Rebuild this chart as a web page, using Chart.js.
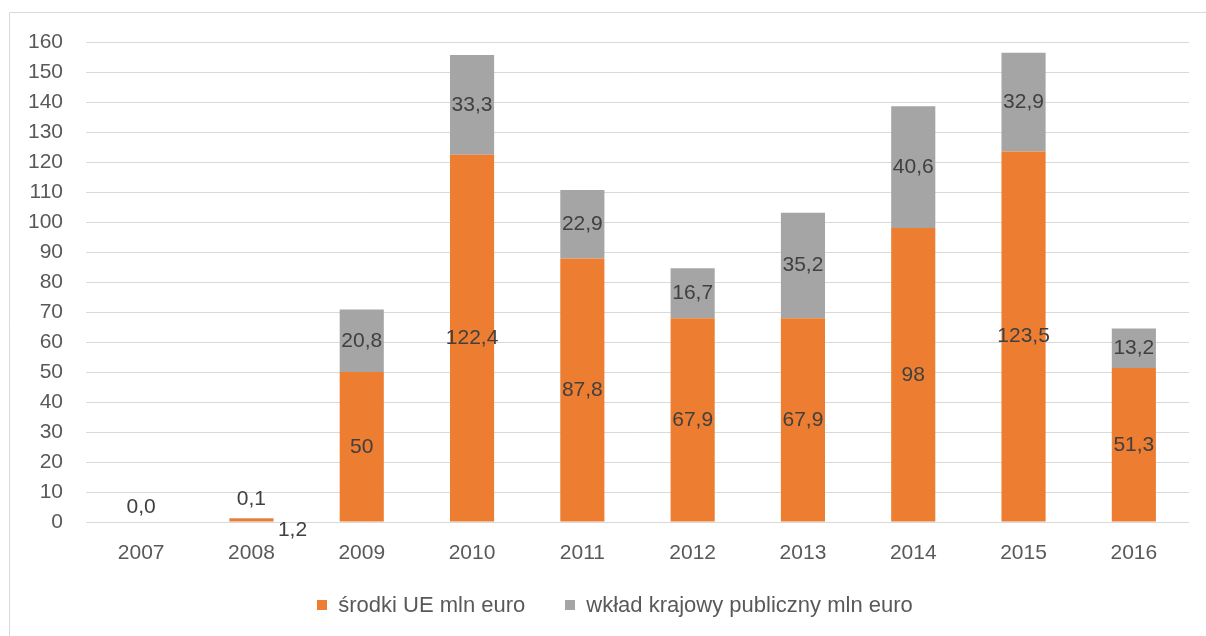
<!DOCTYPE html>
<html>
<head>
<meta charset="utf-8">
<script src="https://cdn.jsdelivr.net/npm/chart.js@4.4.0/dist/chart.umd.min.js"></script>
<style>
  html, body { margin: 0; padding: 0; background: #fff; }
  #wrap { position: relative; width: 1206px; height: 636px; }
  #legend {
    position: absolute; left: 24px; top: 592px; width: 1182px;
    display: flex; justify-content: center; align-items: center;
    font-family: 'Liberation Sans', Arial, sans-serif; font-size: 22px;
    line-height: 26px; color: #595959;
  }
  #legend .item { display: flex; align-items: center; margin: 0 20px; }
  #legend .box { width: 10px; height: 10px; margin-right: 11px; }
</style>
</head>
<body>
<div id="wrap">
  <canvas id="chart" width="1206" height="636"></canvas>
  <div id="legend"></div>
</div>
<script>
// years on the x axis
var years = ['2007', '2008', '2009', '2010', '2011', '2012', '2013', '2014', '2015', '2016']

// środki UE (orange) and wkład krajowy (grey), mln euro
var euFunds = [0, 1.2, 50, 122.4, 87.8, 67.9, 67.9, 98, 123.5, 51.3]
var nationalFunds = [0, 0.1, 20.8, 33.3, 22.9, 16.7, 35.2, 40.6, 32.9, 13.2]

// labels as printed in the chart (formatting is not consistent in the original)
var euLabels = ['', '1,2', '50', '122,4', '87,8', '67,9', '67,9', '98', '123,5', '51,3']
var nationalLabels = ['0,0', '0,1', '20,8', '33,3', '22,9', '16,7', '35,2', '40,6', '32,9', '13,2']

var yTicks = [0, 10, 20, 30, 40, 50, 60, 70, 80, 90, 100, 110, 120, 130, 140, 150, 160]

var FONT = "'Liberation Sans', Arial, sans-serif"
var TEXT = '#595959'

// outer frame: only top and left edges are visible in the original crop
var framePlugin = {
  id: 'frame',
  beforeDraw: function(chart) {
    var ctx = chart.ctx
    ctx.save()
    ctx.fillStyle = '#fff'
    ctx.fillRect(0, 0, chart.width, chart.height)
    ctx.strokeStyle = '#d9d9d9'
    ctx.lineWidth = 1
    ctx.beginPath()
    ctx.moveTo(9.5, chart.height)
    ctx.lineTo(9.5, 12.5)
    ctx.lineTo(chart.width, 12.5)
    ctx.stroke()
    ctx.restore()
  }
}

// value labels in the middle of each segment
var labelPlugin = {
  id: 'segLabels',
  afterDatasetsDraw: function(chart) {
    var ctx = chart.ctx
    var allLabels = [euLabels, nationalLabels]
    ctx.save()
    ctx.font = '21px ' + FONT
    ctx.fillStyle = '#404040'
    ctx.textAlign = 'center'
    ctx.textBaseline = 'middle'
    chart.data.datasets.forEach(function(ds, di) {
      var meta = chart.getDatasetMeta(di)
      meta.data.forEach(function(el, i) {
        var txt = allLabels[di][i]
        if (!txt) return
        var h = Math.abs(el.base - el.y)
        var x = el.x
        var y = (el.y + el.base) / 2
        if (h < 20) {
          // too thin to hold text: grey above, orange off to the lower right
          if (di === 1) {
            y = el.y - 15 - (i === 1 ? 4 : 0)
          } else {
            x = el.x + el.width / 2 + 19
            y = el.base + 9
          }
        }
        ctx.fillText(txt, x, y)
      })
    })
    ctx.restore()
  }
}

// legend built from the datasets, as html so the spacing can match
var htmlLegend = {
  id: 'htmlLegend',
  afterUpdate: function(chart) {
    var box = document.getElementById('legend')
    box.innerHTML = ''
    chart.data.datasets.forEach(function(ds) {
      var item = document.createElement('span')
      item.className = 'item'
      var sw = document.createElement('span')
      sw.className = 'box'
      sw.style.background = ds.backgroundColor
      item.appendChild(sw)
      item.appendChild(document.createTextNode(ds.label))
      box.appendChild(item)
    })
  }
}

var chart = new Chart(document.getElementById('chart'), {
  type: 'bar',
  data: {
    labels: years,
    datasets: [{
      label: 'środki UE mln euro',
      data: euFunds,
      backgroundColor: '#ED7D31',
      barPercentage: 0.4,
      categoryPercentage: 1
    }, {
      label: 'wkład krajowy publiczny mln euro',
      data: nationalFunds,
      backgroundColor: '#A5A5A5',
      barPercentage: 0.4,
      categoryPercentage: 1
    }]
  },
  options: {
    responsive: false,
    animation: false,
    layout: { padding: { top: 42, right: 17, bottom: 54, left: 0 } },
    plugins: {
      tooltip: { enabled: false },
      legend: { display: false }
    },
    scales: {
      x: {
        stacked: true,
        grid: { display: false },
        border: { display: false },
        ticks: { color: TEXT, font: { family: FONT, size: 21 }, padding: 11 },
        afterFit: function(scale) { scale.height = 60 }
      },
      y: {
        stacked: true,
        min: 0,
        max: 160,
        afterBuildTicks: function(scale) {
          scale.ticks = yTicks.map(function(v) { return { value: v } })
        },
        afterFit: function(scale) { scale.width = 86 },
        grid: { color: '#d9d9d9', lineWidth: 1, drawTicks: false },
        border: { display: false },
        ticks: { color: TEXT, font: { family: FONT, size: 21 }, padding: 23 }
      }
    }
  },
  plugins: [framePlugin, labelPlugin, htmlLegend]
})
</script>
</body>
</html>
